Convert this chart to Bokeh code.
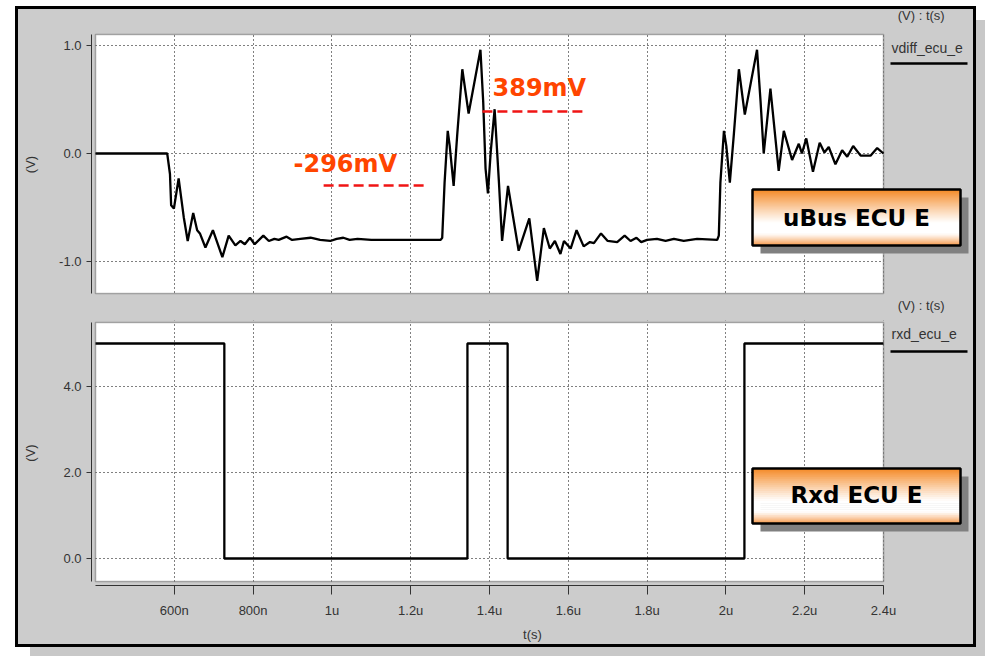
from bokeh.plotting import figure
from bokeh.layouts import column
from bokeh.models import Range1d, FixedTicker, NumeralTickFormatter, Label, BoxAnnotation
from bokeh.embed import file_html
from bokeh.resources import INLINE

# ---------------- data ----------------
vdiff_t_ns = [400, 582, 589, 592, 599, 611, 624, 634, 648, 658,
              665, 679, 698, 722, 738, 755, 768, 779, 792, 804,
              826, 840, 854, 865, 885, 899, 920, 946, 970, 996,
              1012, 1029, 1045, 1065, 1100, 1276,
              1280, 1286, 1294, 1299, 1309, 1318, 1331, 1347, 1377, 1384,
              1390, 1396, 1403, 1413, 1424, 1432, 1447, 1474, 1501, 1521,
              1538, 1553, 1566, 1580, 1589, 1606, 1621, 1639, 1655, 1665,
              1683, 1700, 1724, 1743, 1758, 1773, 1785, 1800, 1825, 1847,
              1868, 1893, 1927, 1978,
              1982, 1986, 1995, 2001, 2010, 2020, 2033, 2048, 2079, 2088,
              2096, 2113, 2134, 2147, 2168, 2185, 2193, 2204, 2221, 2238,
              2250, 2261, 2278, 2295, 2308, 2323, 2342, 2367, 2384, 2400]
vdiff_v = [0.0, 0.0, -0.19, -0.48, -0.51, -0.23, -0.59, -0.81, -0.55, -0.71,
           -0.74, -0.87, -0.71, -0.96, -0.76, -0.85, -0.81, -0.84, -0.78, -0.84,
           -0.76, -0.81, -0.79, -0.80, -0.77, -0.80, -0.79, -0.78, -0.80, -0.81,
           -0.79, -0.78, -0.80, -0.79, -0.80, -0.80,
           -0.78, -0.27, 0.21, 0.07, -0.30, 0.17, 0.78, 0.37, 0.96, 0.48,
           -0.14, -0.37, 0.01, 0.41, -0.27, -0.81, -0.30, -0.90, -0.60, -1.18,
           -0.69, -0.88, -0.81, -0.93, -0.81, -0.88, -0.71, -0.86, -0.82, -0.83,
           -0.74, -0.81, -0.82, -0.76, -0.81, -0.78, -0.82, -0.80, -0.79, -0.81,
           -0.79, -0.81, -0.79, -0.80,
           -0.76, -0.27, 0.21, 0.07, -0.27, 0.17, 0.78, 0.36, 0.96, 0.48,
           0.00, 0.60, -0.16, 0.21, -0.06, 0.09, 0.00, 0.14, -0.17, 0.10,
           0.01, 0.06, -0.10, 0.03, -0.03, 0.07, -0.02, -0.02, 0.05, 0.00]

rxd_t_ns = [400, 727, 727, 1344, 1344, 1446, 1446, 2047, 2047, 2400]
rxd_v = [5.0, 5.0, 0.0, 0.0, 5.0, 5.0, 0.0, 0.0, 5.0, 5.0]

x_ticks = [600, 800, 1000, 1200, 1400, 1600, 1800, 2000, 2200, 2400]
x_tick_labels = ["600n", "800n", "1u", "1.2u", "1.4u", "1.6u", "1.8u", "2u", "2.2u", "2.4u"]
vdiff_ticks = [-1.0, 0.0, 1.0]
rxd_ticks = [0.0, 2.0, 4.0]

marker_values = [-0.296, 0.389]
marker_labels = ["-296mV", "389mV"]
marker_t_start = [979, 1382]
marker_t_end = [1245, 1646]

signal_names = ["vdiff_ecu_e", "rxd_ecu_e"]
panel_titles = ["uBus ECU E", "Rxd ECU E"]
unit_label = "(V) : t(s)"

# ---------------- layout helpers (pixel geometry of the window) ----------------
OX, OY = 18, 9            # inner origin of the grey panel
X0PX, PX_PER_NS = 95, 0.394


def tx(xabs):
    return 400 + (xabs - X0PX) / PX_PER_NS


def v1(yabs):
    return (153 - yabs) / 108.0


def v2(yabs):
    return (558 - yabs) / 43.0


GREY = "#cccccc"
TXT = "#333333"
FONT = "Liberation Sans"
W = 955
P1_TOP, SPLIT, P2_TOP, BOTTOM = 32, 296, 320, 644
T0, T1 = tx(95), tx(883)      # data box left / right (400n .. 2.4u)


def header(top, bottom, y_text):
    h = figure(width=W, height=bottom - top, output_backend="svg", toolbar_location=None, title=None,
               x_range=Range1d(OX, OX + W), y_range=Range1d(bottom, top),
               x_axis_location=None, y_axis_location=None,
               min_border_left=0, min_border_right=0, min_border_top=0, min_border_bottom=0,
               background_fill_color=GREY, border_fill_color=GREY, outline_line_color=None)
    h.xgrid.visible = False
    h.ygrid.visible = False
    h.add_layout(Label(x=891, y=y_text, text=unit_label, text_align="left", text_baseline="middle",
                       text_font=FONT, text_font_size="13px", text_color=TXT))
    return h


def style_axes(p, yticks, fmt, ybounds):
    p.yaxis.ticker = FixedTicker(ticks=yticks)
    p.yaxis.formatter = NumeralTickFormatter(format=fmt)
    p.yaxis.bounds = ybounds
    p.yaxis.major_tick_in = 0
    p.yaxis.major_tick_out = 5
    p.yaxis.minor_tick_line_color = None
    p.yaxis.axis_line_color = TXT
    p.yaxis.major_tick_line_color = TXT
    p.yaxis.major_label_text_font = FONT
    p.yaxis.major_label_text_font_size = "13px"
    p.yaxis.major_label_text_color = TXT
    p.yaxis.major_label_standoff = 5
    p.yaxis.axis_label = "(V)"
    p.yaxis.axis_label_text_font = FONT
    p.yaxis.axis_label_text_font_size = "13px"
    p.yaxis.axis_label_text_font_style = "normal"
    p.yaxis.axis_label_text_color = TXT
    p.xgrid.ticker = FixedTicker(ticks=x_ticks)
    p.ygrid.ticker = FixedTicker(ticks=yticks)
    for g in (p.xgrid, p.ygrid):
        g.grid_line_color = "black"
        g.grid_line_dash = "1 3"
        g.grid_line_width = 1
        g.grid_line_alpha = 1.0


def data_box(p, vconv, ytop, ybot):
    # white plotting area, grey covers around it (hide grid outside), dark outline
    p.add_layout(BoxAnnotation(left=T0, right=T1, top=vconv(ytop), bottom=vconv(ybot),
                               fill_color="white", fill_alpha=1, line_color=None, level="image"))
    covers = [dict(right=T0), dict(left=T1), dict(bottom=vconv(ytop)), dict(top=vconv(ybot))]
    for c in covers:
        p.add_layout(BoxAnnotation(fill_color=GREY, fill_alpha=1, line_color=None, level="underlay", **c))
    p.add_layout(BoxAnnotation(left=T0, right=T1, top=vconv(ytop), bottom=vconv(ybot),
                               fill_color=None, fill_alpha=0, line_color="#222222", line_width=1.6))


def grad_color(s):
    top = (244, 136, 36)
    bot = (245, 150, 70)
    if s < 0.6:
        a = (1 - s / 0.6) ** 1.1
        c = top
    elif s < 0.78:
        a = 0.0
        c = top
    else:
        a = ((s - 0.78) / 0.22) ** 1.2
        c = bot
    r = int(round(255 + (c[0] - 255) * a))
    g = int(round(255 + (c[1] - 255) * a))
    b = int(round(255 + (c[2] - 255) * a))
    return "#%02x%02x%02x" % (r, g, b)


def title_box(p, vconv, x0, x1, y0, y1, text, center_y):
    p.add_layout(BoxAnnotation(left=tx(x0 + 8), right=tx(x1 + 8), top=vconv(y0 + 8), bottom=vconv(y1 + 8),
                               fill_color="#808080", fill_alpha=1, line_color=None))
    n = int((y1 - y0) / 2)
    for i in range(n):
        ya = y0 + i * (y1 - y0) / n
        yb = y0 + (i + 1) * (y1 - y0) / n + 0.6
        p.add_layout(BoxAnnotation(left=tx(x0), right=tx(x1), top=vconv(ya), bottom=vconv(yb),
                                   fill_color=grad_color((i + 0.5) / n), fill_alpha=1, line_color=None))
    p.add_layout(BoxAnnotation(left=tx(x0), right=tx(x1), top=vconv(y0), bottom=vconv(y1),
                               fill_color=None, fill_alpha=0, line_color="black", line_width=2.5, line_alpha=1))
    p.add_layout(Label(x=(tx(x0) + tx(x1)) / 2, y=vconv(center_y), text=text, text_align="center",
                       text_baseline="middle", text_font="DejaVu Sans", text_font_style="bold",
                       text_font_size="23px", text_color="black"))


def legend(p, vconv, y_name, y_line, name):
    p.add_layout(Label(x=tx(891), y=vconv(y_name), text=name, text_align="left", text_baseline="middle",
                       text_font=FONT, text_font_size="14px", text_color=TXT))
    p.add_layout(BoxAnnotation(left=tx(890), right=tx(967), top=vconv(y_line - 1.2), bottom=vconv(y_line + 1.2),
                               fill_color="black", fill_alpha=1, line_color=None))


# ---------------- header strip above top plot ----------------
h1 = header(OY, P1_TOP, 15)

# ---------------- top plot: vdiff ----------------
p1 = figure(width=W, height=SPLIT - P1_TOP, output_backend="svg", toolbar_location=None, title=None,
            x_range=Range1d(tx(91), tx(OX + W)), y_range=Range1d(v1(SPLIT), v1(P1_TOP)),
            x_axis_location=None,
            min_border_left=91 - OX, min_border_right=0, min_border_top=0, min_border_bottom=0,
            background_fill_color=GREY, border_fill_color=GREY, outline_line_color=None)
style_axes(p1, vdiff_ticks, "0.0", (v1(293), v1(34)))
p1.yaxis.axis_label_standoff = 18
data_box(p1, v1, 34, 293)
p1.line(vdiff_t_ns, vdiff_v, line_color="black", line_width=2.3)
p1.segment(x0=marker_t_start, y0=marker_values, x1=marker_t_end, y1=marker_values,
           line_color="#f01414", line_width=2.6, line_dash="10 5")
label_px = [(293, 163), (492, 87)]
for (lx, ly), txt in zip(label_px, marker_labels):
    p1.add_layout(Label(x=tx(lx), y=v1(ly), text=txt, text_align="left", text_baseline="middle",
                        text_font="DejaVu Sans", text_font_style="bold", text_font_size="24px",
                        text_color="#ff4500"))
legend(p1, v1, 47, 63, signal_names[0])
title_box(p1, v1, 752, 960, 189, 245, panel_titles[0], 217.5)

# ---------------- header strip above bottom plot ----------------
h2 = header(SPLIT, P2_TOP, 305)

# ---------------- bottom plot: rxd ----------------
p2 = figure(width=W, height=BOTTOM - P2_TOP, output_backend="svg", toolbar_location=None, title=None,
            x_range=p1.x_range, y_range=Range1d(v2(585), v2(P2_TOP)),
            min_border_left=91 - OX, min_border_right=0, min_border_top=0,
            min_border_bottom=BOTTOM - 585,
            background_fill_color=GREY, border_fill_color=GREY, outline_line_color=None)
style_axes(p2, rxd_ticks, "0.0", (v2(581), v2(322)))
p2.yaxis.axis_label_standoff = 22
p2.xaxis.ticker = FixedTicker(ticks=x_ticks)
p2.xaxis.bounds = (T0, T1)
p2.xaxis.major_label_overrides = {t: s for t, s in zip(x_ticks, x_tick_labels)}
p2.xaxis.major_tick_in = 0
p2.xaxis.major_tick_out = 9
p2.xaxis.minor_tick_line_color = None
p2.xaxis.axis_line_color = TXT
p2.xaxis.major_tick_line_color = TXT
p2.xaxis.major_label_text_font = FONT
p2.xaxis.major_label_text_font_size = "13px"
p2.xaxis.major_label_text_color = TXT
p2.xaxis.major_label_standoff = 8
p2.xaxis.axis_label = "t(s)"
p2.xaxis.axis_label_text_font = FONT
p2.xaxis.axis_label_text_font_size = "13px"
p2.xaxis.axis_label_text_font_style = "normal"
p2.xaxis.axis_label_text_color = TXT
p2.xaxis.axis_label_standoff = 6
data_box(p2, v2, 322, 581)
p2.line(rxd_t_ns, rxd_v, line_color="black", line_width=2.3)
legend(p2, v2, 333, 351, signal_names[1])
title_box(p2, v2, 752, 960, 468, 523, panel_titles[1], 494)

layout = column(h1, p1, h2, p2, spacing=0, styles={
    "border": "3px solid #000000",
    "box-shadow": "15px 14px 0px #c8c8c8",
    "margin-left": "15px",
    "margin-top": "6px",
    "background-color": GREY,
})

open("out.html", "w").write(file_html(layout, INLINE))
